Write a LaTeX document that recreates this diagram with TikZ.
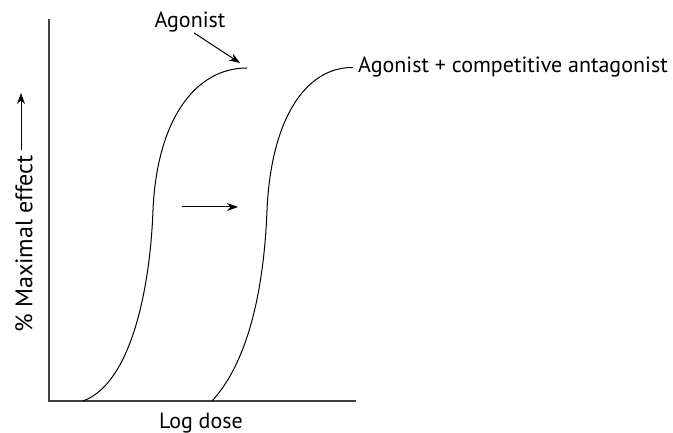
\documentclass[tikz,border=0pt]{standalone}
\usepackage{fontspec}
\setmainfont{PT Sans}
\usetikzlibrary{arrows.meta}

\begin{document}
\begin{tikzpicture}[
    x=1pt, y=-1pt,
    every node/.style={font=\fontsize{22}{26}\selectfont, inner sep=0pt},
    axis/.style={draw=black!75, line width=1.2pt},
    curve/.style={draw, line width=1pt},
    edge/.style={draw, ->, >={Stealth[length=11pt,width=8pt]}, line width=1pt},
    ylabel/.style={font=\fontsize{24}{28}\selectfont, rotate=90}
]
\useasboundingbox (0,0) rectangle (673,433);

% Axes
\coordinate (origin) at (49,401);
\coordinate (ytop) at (49,19);
\coordinate (xend) at (356,401);
\draw[axis] (ytop) -- (origin) -- (xend);

% Axis labels
\node[anchor=base] (xlab) at (201,428) {Log dose};
\node[ylabel] (ylab) at (24,244) {\% Maximal effect};
\coordinate (yarr) at (21,93);
\draw[edge, shorten <=5pt] (ylab.east -| yarr) -- (yarr);

% Curve labels
\node[anchor=base] (agonist) at (190,28) {Agonist};
\node[anchor=base west] (antag) at (358,73) {Agonist + competitive antagonist};

% Agonist curve
\coordinate (a0) at (83,401);
\coordinate (amid) at (153,210);
\coordinate (atop) at (247,68);
\draw[curve] (a0) .. controls (130,384) and (150,292) .. (amid)
             .. controls (157,120) and (195,68) .. (atop);

% Agonist + antagonist curve
\coordinate (b0) at (212,401);
\coordinate (bmid) at (267,210);
\draw[curve] (b0) .. controls (248,362) and (264,290) .. (bmid)
             .. controls (271,120) and (305,67) .. ([xshift=-5pt]antag.west);

% Arrows
\coordinate (atip) at (240,63);
\draw[edge] ([xshift=4pt]agonist.south) -- (atip);
\coordinate (sh0) at (182,207);
\coordinate (sh1) at (238,207);
\draw[edge] (sh0) -- (sh1);

\end{tikzpicture}
\end{document}
